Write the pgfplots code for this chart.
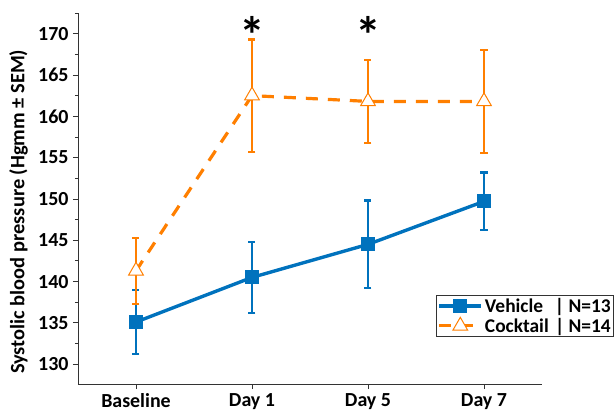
\documentclass[border=0pt]{standalone}
\usepackage{pgfplots}
\pgfplotsset{compat=1.18}
\usepackage{fontspec}
\setmainfont{Carlito}
\definecolor{vblue}{RGB}{0,114,189}
\definecolor{corange}{RGB}{255,127,0}
\begin{document}
\begin{tikzpicture}
\useasboundingbox (-78bp,-31bp) rectangle (536bp,384bp);
\begin{axis}[
  scale only axis,
  width=464bp, height=371bp,
  xmin=-0.5, xmax=3.5,
  ymin=127.6, ymax=172.5,
  axis lines*=left,
  axis line style={line width=1pt, black!80},
  xtick={0,1,2,3},
  xticklabels={Baseline,Day 1,Day 5,Day 7},
  ytick={130,135,...,170},
  minor ytick={132.5,137.5,...,172.5},
  tick align=outside,
  tick style={black!80, line width=0.8pt},
  major tick length=5bp,
  minor tick length=3bp,
  tick label style={font=\bfseries\fontsize{20}{22}\selectfont},
  /pgf/number format/assume math mode=true,
  yticklabel style={xshift=-1bp},
  xticklabel style={yshift=-1bp},
  ylabel={Systolic blood pressure (Hgmm ± SEM)},
  ylabel style={font=\bfseries\fontsize{20.5}{22}\selectfont, at={(rel axis cs:-0.128,0.464)}, anchor=center},
  legend style={at={(rel axis cs:0.772,0.24)}, anchor=north west,
    draw=black!80, line width=0.8pt, font=\bfseries\fontsize{19.5}{22}\selectfont,
    inner xsep=1bp, inner ysep=1bp},
  legend image code/.code={\draw[mark repeat=2,mark phase=2] plot coordinates {(0bp,0bp)(21bp,0bp)(42bp,0bp)};},
  legend cell align=left,
  clip=false,
]
\addplot[color=vblue, line width=3.4pt, mark=square*, mark size=6.5bp,
  mark options={solid, fill=vblue, line width=1pt},
  error bars/.cd, y dir=both, y explicit,
  error bar style={line width=1.9pt, vblue},
  error mark options={rotate=90, mark size=3.5bp, line width=2.2pt, vblue}]
  coordinates {
  (0,135.1) +- (0,3.9)
  (1,140.5) +- (0,4.3)
  (2,144.5) +- (0,5.3)
  (3,149.7) +- (0,3.5)
  };
\addlegendentry{\makebox[70bp][l]{Vehicle}| N=13}
\addplot[color=corange, line width=3.2pt, dash pattern=on 12bp off 10bp,
  mark=triangle*, mark size=8.5bp,
  mark options={solid, fill=white, draw=corange, line width=1pt},
  error bars/.cd, y dir=both, y explicit,
  error bar style={line width=1.9pt, corange, solid},
  error mark options={rotate=90, mark size=3.5bp, line width=2.2pt, corange, solid}]
  coordinates {
  (0,141.3) +- (0,4.0)
  (1,162.5) +- (0,6.8)
  (2,161.8) +- (0,5.0)
  (3,161.8) +- (0,6.2)
  };
\addlegendentry{\makebox[70bp][l]{Cocktail}| N=14}
\node[font=\bfseries\fontsize{52}{52}\selectfont] at (axis cs:1,169.8) {*};
\node[font=\bfseries\fontsize{52}{52}\selectfont] at (axis cs:2,169.8) {*};
\end{axis}
\end{tikzpicture}
\end{document}
